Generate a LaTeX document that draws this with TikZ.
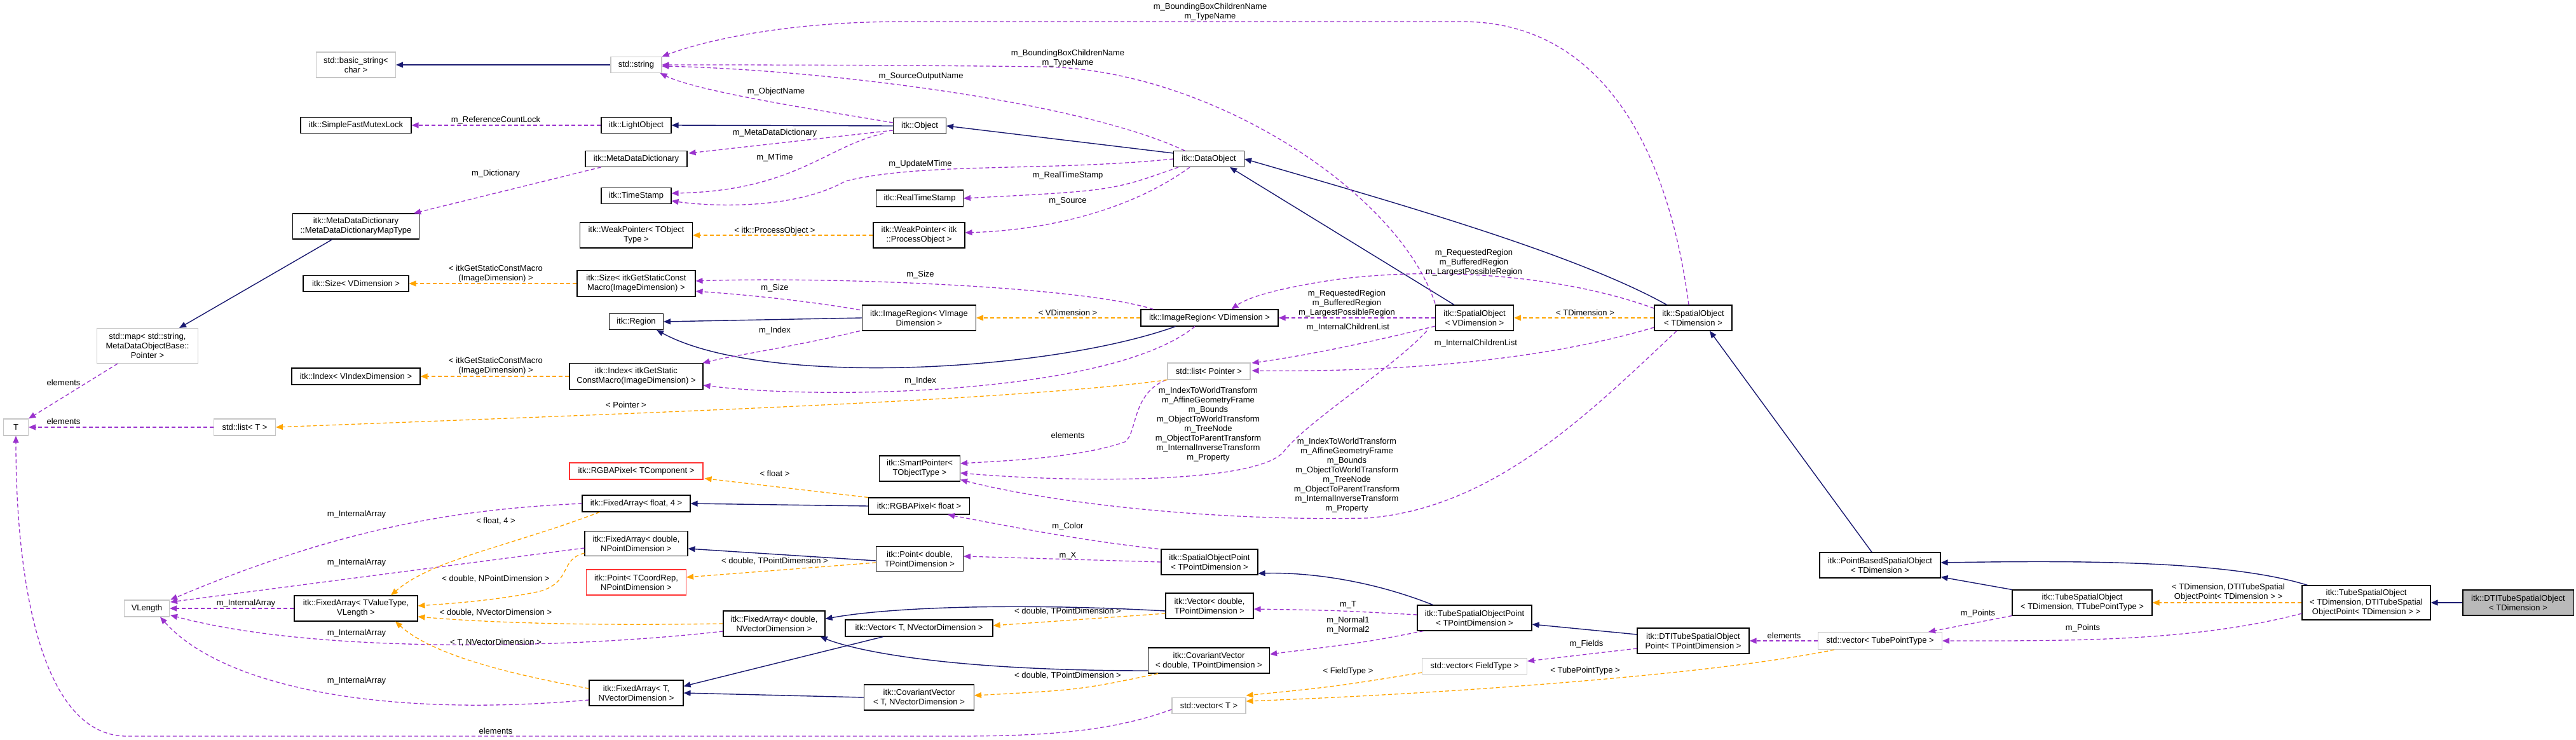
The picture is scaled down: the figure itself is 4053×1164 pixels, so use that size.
\documentclass[tikz,border=0pt]{standalone}
\usepackage{fontspec}
\setmainfont{Liberation Sans}
\usetikzlibrary{arrows.meta,calc}
\definecolor{navy}{HTML}{191970}
\definecolor{purp}{HTML}{9A32CD}
\definecolor{oran}{HTML}{FFA500}
\begin{document}
\begin{tikzpicture}[x=1pt,y=-1pt,
  every node/.style={font=\fontsize{13}{15}\selectfont},
  bx/.style={draw=black,line width=1.1,fill=white,inner sep=1,align=center},
  gb/.style={bx,draw=gray!45},
  rb/.style={bx,draw=red!80},
  lb/.style={align=center,inner sep=0,fill=none},
  inh/.style={draw=navy,line width=1.4,-{Triangle[length=11,width=9]}},
  use/.style={draw=purp,line width=1.3,dash pattern=on 6pt off 4pt,-{Triangle[length=11,width=9]}},
  tpl/.style={draw=oran,line width=1.3,dash pattern=on 6pt off 4pt,-{Triangle[length=11,width=9]}}]
\useasboundingbox[fill=white] (0,0) rectangle (4053,1164);
\newcommand{\bn}[6]{\node[#1,minimum width=#4,minimum height=#5] (#2) at #3 {#6};}
\bn{gb}{bs}{(560,102)}{125}{40}{std::basic\_string<\\char >}
\bn{gb}{str}{(1001,102)}{80}{25}{std::string}
\bn{bx}{sfm}{(560,197)}{174}{25}{itk::SimpleFastMutexLock}
\bn{bx}{lo}{(1001,197)}{110}{25}{itk::LightObject}
\bn{bx}{obj}{(1447,198)}{83}{25}{itk::Object}
\bn{bx}{mdd}{(1001,250)}{160}{25}{itk::MetaDataDictionary}
\bn{bx}{dobj}{(1902,250)}{111}{25}{itk::DataObject}
\bn{bx}{ts}{(1001,308)}{110}{25}{itk::TimeStamp}
\bn{bx}{rts}{(1447,312)}{137}{26}{itk::RealTimeStamp}
\bn{bx}{wpt}{(1001,370)}{177}{40}{itk::WeakPointer< TObject\\Type >}
\bn{bx}{wpp}{(1446,370)}{144}{40}{itk::WeakPointer< itk\\::ProcessObject >}
\bn{bx}{mapt}{(560,356)}{199}{40}{itk::MetaDataDictionary\\::MetaDataDictionaryMapType}
\bn{bx}{szv}{(560,446)}{166}{25}{itk::Size< VDimension >}
\bn{bx}{szg}{(1001,446)}{186}{41}{itk::Size< itkGetStaticConst\\Macro(ImageDimension) >}
\bn{bx}{reg}{(1001,506)}{85}{25}{itk::Region}
\bn{bx}{irvi}{(1446,500)}{179}{40}{itk::ImageRegion< VImage\\Dimension >}
\bn{bx}{irv}{(1903,500)}{216}{26}{itk::ImageRegion< VDimension >}
\bn{bx}{sov}{(2320,500)}{123}{40}{itk::SpatialObject\\< VDimension >}
\bn{bx}{sot}{(2664,500)}{122}{40}{itk::SpatialObject\\< TDimension >}
\bn{gb}{smap}{(232,544)}{159}{55}{std::map< std::string,\\ MetaDataObjectBase::\\Pointer >}
\bn{bx}{idxv}{(560,592)}{202}{26}{itk::Index< VIndexDimension >}
\bn{bx}{idxg}{(1001,592)}{210}{41}{itk::Index< itkGetStatic\\ConstMacro(ImageDimension) >}
\bn{gb}{lp}{(1902,584)}{130}{26}{std::list< Pointer >}
\bn{gb}{T}{(25,672)}{39}{26}{T}
\bn{gb}{lt}{(385,672)}{97}{26}{std::list< T >}
\bn{bx}{sp}{(1447,737)}{127}{40}{itk::SmartPointer<\\TObjectType >}
\bn{rb}{rgbt}{(1001,741)}{210}{26}{itk::RGBAPixel< TComponent >}
\bn{bx}{rgbf}{(1446,796)}{159}{26}{itk::RGBAPixel< float >}
\bn{bx}{fa4}{(1001,792)}{170}{26}{itk::FixedArray< float, 4 >}
\bn{bx}{fadp}{(1001,855)}{162}{39}{itk::FixedArray< double,\\NPointDimension >}
\bn{bx}{pdp}{(1447,879)}{137}{39}{itk::Point< double,\\TPointDimension >}
\bn{bx}{sop}{(1903,884)}{152}{40}{itk::SpatialObjectPoint\\< TPointDimension >}
\bn{rb}{ptc}{(1001,916)}{157}{40}{itk::Point< TCoordRep,\\NPointDimension >}
\bn{gb}{vl}{(231,957)}{71}{26}{VLength}
\bn{bx}{fatv}{(560,957)}{194}{40}{itk::FixedArray< TValueType,\\VLength >}
\bn{bx}{vdp}{(1903,953)}{138}{40}{itk::Vector< double,\\TPointDimension >}
\bn{bx}{fadv}{(1218,981)}{160}{40}{itk::FixedArray< double,\\NVectorDimension >}
\bn{bx}{vtv}{(1446,988)}{232}{26}{itk::Vector< T, NVectorDimension >}
\bn{bx}{cvd}{(1902,1039)}{191}{40}{itk::CovariantVector\\< double, TPointDimension >}
\bn{bx}{fatnv}{(1001,1090)}{148}{40}{itk::FixedArray< T,\\NVectorDimension >}
\bn{bx}{cvt}{(1446,1097)}{173}{40}{itk::CovariantVector\\< T, NVectorDimension >}
\bn{gb}{vt}{(1902,1110)}{116}{25}{std::vector< T >}
\bn{bx}{tsop}{(2320,972)}{180}{40}{itk::TubeSpatialObjectPoint\\< TPointDimension >}
\bn{bx}{dtsop}{(2664,1008)}{176}{40}{itk::DTITubeSpatialObject\\Point< TPointDimension >}
\bn{gb}{vft}{(2320,1048)}{165}{25}{std::vector< FieldType >}
\bn{bx}{pbso}{(2958,889)}{190}{40}{itk::PointBasedSpatialObject\\< TDimension >}
\bn{bx}{tso}{(3276,948)}{220}{40}{itk::TubeSpatialObject\\< TDimension, TTubePointType >}
\bn{bx}{tsod}{(3723,948)}{202}{54}{itk::TubeSpatialObject\\< TDimension, DTITubeSpatial\\ObjectPoint< TDimension > >}
\bn{bx,fill=gray!55}{dtso}{(3962,948)}{174}{40}{itk::DTITubeSpatialObject\\< TDimension >}
\bn{gb}{vtp}{(2958,1008)}{195}{27}{std::vector< TubePointType >}
% inheritance
\draw[inh] (str.west) -- (bs.east);
\draw[inh] (obj.west) -- (lo.east);
\draw[inh] ($(dobj.north west)+(0,4)$) -- (obj.east);
\draw[inh] ($(sot.north west)+(20,0)$) .. controls (2480,400) and (2200,320) .. (dobj.east);
\draw[inh] ($(sov.north west)+(30,0)$) -- ($(dobj.south east)+(-23,0)$);
\draw[inh] ($(mapt.south west)+(63,0)$) -- ($(smap.north)+(50,0)$);
\draw[inh] (irvi.west) -- (reg.east);
\draw[inh] ($(irv.south west)+(55,0)$) .. controls (1650,585) and (1200,610) .. ($(reg.south east)+(-11,0)$);
\draw[inh] (rgbf.west) -- (fa4.east);
\draw[inh] ($(pdp.west)+(0,3)$) -- ($(fadp.east)+(0,8)$);
\draw[inh] ($(vdp.west)+(0,8)$) .. controls (1600,948) and (1400,955) .. ($(fadv.north east)+(0,13)$);
\draw[inh] ($(cvd.west)+(0,16)$) .. controls (1500,1055) and (1350,1025) .. ($(fadv.south east)+(-8,0)$);
\draw[inh] ($(vtv.south west)+(60,0)$) -- ($(fatnv.north east)+(0,10)$);
\draw[inh] (cvt.west) -- (fatnv.east);
\draw[inh] ($(tsop.north west)+(25,0)$) .. controls (2150,910) and (2050,900) .. ($(sop.east)+(0,18)$);
\draw[inh] ($(dtsop.west)+(0,-10)$) -- ($(tsop.east)+(0,10)$);
\draw[inh] ($(pbso.north)+(-13,0)$) -- ($(sot.south)+(26,0)$);
\draw[inh] ($(tso.north west)+(0,0)$) -- ($(pbso.south east)+(0,-2)$);
\draw[inh] ($(tsod.north west)+(9,0)$) .. controls (3500,880) and (3250,882) .. ($(pbso.east)+(0,-4)$);
\draw[inh] (dtso.west) -- (tsod.east);
% usage
\draw[use] (lo.west) -- (sfm.east);
\draw[use] ($(mdd.south west)+(25,0)$) -- ($(mapt.north east)+(-9,0)$);
\draw[use] ($(obj.west)+(0,-5)$) .. controls (1300,175) and (1100,145) .. ($(str.south east)+(-3,0)$);
\draw[use] ($(obj.west)+(0,7)$) -- ($(mdd.east)+(2,-9)$);
\draw[use] ($(obj.west)+(-15,12)$) .. controls (1300,230) and (1250,300) .. ($(ts.east)+(0,-4)$);
\draw[use] (dobj.west) .. controls (1650,270) and (1450,255) .. (1330,285) .. controls (1250,330) and (1120,325) .. ($(ts.east)+(0,8)$);
\draw[use] ($(dobj.south west)+(8,0)$) .. controls (1750,300) .. (rts.east);
\draw[use] ($(dobj.south)+(-30,0)$) .. controls (1780,330) and (1650,362) .. ($(wpp.east)+(0,-4)$);
\draw[use] ($(dobj.north west)+(18,0)$) .. controls (1700,160) and (1300,110) .. ($(str.east)+(0,2)$);
\draw[use] ($(sov.north west)+(0,-2)$) .. controls (2200,300) and (1900,108) .. (1640,105) .. controls (1400,102) and (1150,102) .. ($(str.east)+(0,0)$);
\draw[use] ($(sot.north)+(-7,0)$) .. controls (2620,200) and (2500,34) .. (2300,34) -- (1420,34) .. controls (1250,34) and (1120,60) .. ($(str.north east)+(0,0)$);
\draw[use] ($(irvi.north west)+(-3,8)$) .. controls (1250,470) and (1150,462) .. ($(szg.east)+(0,12)$);
\draw[use] ($(irv.north west)+(20,0)$) .. controls (1700,450) and (1300,435) .. ($(szg.east)+(0,-4)$);
\draw[use] ($(irvi.south west)+(-3,0)$) .. controls (1250,545) and (1150,560) .. ($(idxg.north east)+(-1,0)$);
\draw[use] ($(irv.south)+(-23,0)$) .. controls (1750,620) and (1300,630) .. ($(idxg.east)+(0,14)$);
\draw[use] (sov.west) -- (irv.east);
\draw[use] ($(sot.west)+(0,-15)$) .. controls (2450,430) and (2250,420) .. (2100,440) .. controls (2000,455) and (1960,470) .. ($(irv.north east)+(-74,0)$);
\draw[use] ($(sov.west)+(0,13)$) .. controls (2150,540) and (2050,560) .. ($(lp.east)+(2,-13)$);
\draw[use] ($(sot.west)+(0,15)$) .. controls (2400,575) and (2150,585) .. ($(lp.east)+(2,-1)$);
\draw[use] ($(lp.south west)+(-2,0)$) .. controls (1780,620) and (1790,680) .. (1770,695) .. controls (1700,720) and (1580,725) .. ($(sp.east)+(0,-8)$);
\draw[use] ($(sov.south west)+(-13,0)$) .. controls (2190,580) and (2060,660) .. (2020,710) .. controls (1980,760) and (1700,760) .. ($(sp.east)+(0,7)$);
\draw[use] ($(sot.south)+(-26,0)$) .. controls (2500,650) and (2350,800) .. (2150,815) .. controls (1900,820) and (1650,790) .. ($(sp.south east)+(0,-3)$);
\draw[use] ($(sop.north west)+(-4,0)$) .. controls (1700,850) and (1600,830) .. ($(rgbf.south east)+(-35,0)$);
\draw[use] (sop.west) -- ($(pdp.east)+(0,-4)$);
\draw[use] ($(tsop.west)+(0,-5)$) .. controls (2100,960) .. ($(vdp.east)+(0,5)$);
\draw[use] ($(tsop.south west)+(10,0)$) .. controls (2150,1010) .. ($(cvd.east)+(0,-10)$);
\draw[use] ($(dtsop.west)+(0,12)$) -- ($(vft.east)+(0,-8)$);
\draw[use] (vtp.west) -- (dtsop.east);
\draw[use] (tso.south west) -- ($(vtp.north east)+(-22,0)$);
\draw[use] ($(tsod.west)+(0,17)$) .. controls (3450,1010) and (3250,1008) .. (vtp.east);
\draw[use] ($(smap.south)+(-47,0)$) -- (T.north east);
\draw[use] (lt.west) -- (T.east);
\draw[use] ($(vt.west)+(0,6)$) .. controls (1750,1150) and (1650,1158) .. (1500,1158) -- (200,1158) .. controls (60,1158) and (25,900) .. (T.south);
\draw[use] (fa4.west) .. controls (750,800) and (560,820) .. ($(vl.north east)+(1,0)$);
\draw[use] ($(fadp.west)+(0,7)$) -- ($(vl.east)+(1,-10)$);
\draw[use] (fatv.west) -- (vl.east);
\draw[use] ($(fadv.west)+(0,12)$) .. controls (900,1020) and (500,1030) .. ($(vl.south east)+(1,-3)$);
\draw[use] ($(fatnv.west)+(0,11)$) .. controls (600,1130) and (350,1080) .. ($(vl.south east)+(-15,0)$);
% templates
\draw[tpl] (szg.west) -- (szv.east);
\draw[tpl] (idxg.west) -- (idxv.east);
\draw[tpl] (wpp.west) -- (wpt.east);
\draw[tpl] (irv.west) -- (irvi.east);
\draw[tpl] (sot.west) -- (sov.east);
\draw[tpl] ($(lp.south west)+(0,0)$) .. controls (1600,630) and (1000,650) .. (lt.east);
\draw[tpl] ($(rgbf.north west)+(0,0)$) -- ($(rgbt.south east)+(2,-2)$);
\draw[tpl] ($(fa4.south west)+(28,0)$) .. controls (800,860) and (680,880) .. ($(fatv.north)+(55,0)$);
\draw[tpl] ($(fadp.west)+(0,15)$) .. controls (880,880) and (900,915) .. (850,930) .. controls (780,945) and (700,950) .. ($(fatv.east)+(0,-4)$);
\draw[tpl] (fadv.west) .. controls (900,985) and (750,978) .. ($(fatv.east)+(0,13)$);
\draw[tpl] ($(fatnv.west)+(0,-7)$) .. controls (800,1060) and (680,1030) .. ($(fatv.south)+(62,0)$);
\draw[tpl] ($(pdp.west)+(0,6)$) -- ($(ptc.east)+(0,-8)$);
\draw[tpl] ($(vdp.west)+(0,12)$) -- ($(vtv.east)+(0,-4)$);
\draw[tpl] ($(cvd.south west)+(16,0)$) .. controls (1700,1085) .. ($(cvt.east)+(0,-3)$);
\draw[tpl] ($(vft.west)+(0,10)$) .. controls (2100,1080) .. ($(vt.east)+(0,-16)$);
\draw[tpl] ($(vtp.south west)+(26,0)$) .. controls (2700,1060) and (2300,1090) .. ($(vt.east)+(0,-7)$);
\draw[tpl] (tsod.west) -- (tso.east);
% labels
\node[lb] (l1) at (780,189) {m\_ReferenceCountLock};
\node[lb] (l2) at (780,273) {m\_Dictionary};
\node[lb] (l3) at (780,431) {< itkGetStaticConstMacro\\(ImageDimension) >};
\node[lb] (l4) at (780,576) {< itkGetStaticConstMacro\\(ImageDimension) >};
\node[lb] (l5) at (100,602) {elements};
\node[lb] (l6) at (100,663) {elements};
\node[lb] (l7) at (985,637) {< Pointer >};
\node[lb] (l8) at (561,809) {m\_InternalArray};
\node[lb] (l9) at (780,820) {< float, 4 >};
\node[lb] (l10) at (561,885) {m\_InternalArray};
\node[lb] (l11) at (780,911) {< double, NPointDimension >};
\node[lb] (l12) at (387,949) {m\_InternalArray};
\node[lb] (l13) at (780,964) {< double, NVectorDimension >};
\node[lb] (l14) at (561,996) {m\_InternalArray};
\node[lb] (l15) at (780,1011) {< T, NVectorDimension >};
\node[lb] (l16) at (561,1071) {m\_InternalArray};
\node[lb] (l17) at (780,1150) {elements};
\node[lb] (l18) at (1904,19) {m\_BoundingBoxChildrenName\\m\_TypeName};
\node[lb] (l19) at (1680,92) {m\_BoundingBoxChildrenName\\m\_TypeName};
\node[lb] (l20) at (1449,120) {m\_SourceOutputName};
\node[lb] (l21) at (1221,144) {m\_ObjectName};
\node[lb] (l22) at (1219,209) {m\_MetaDataDictionary};
\node[lb] (l23) at (1219,248) {m\_MTime};
\node[lb] (l24) at (1448,258) {m\_UpdateMTime};
\node[lb] (l25) at (1680,276) {m\_RealTimeStamp};
\node[lb] (l26) at (1680,316) {m\_Source};
\node[lb] (l27) at (1219,363) {< itk::ProcessObject >};
\node[lb] (l28) at (1448,432) {m\_Size};
\node[lb] (l29) at (1219,453) {m\_Size};
\node[lb] (l30) at (1680,492) {< VDimension >};
\node[lb] (l31) at (1219,520) {m\_Index};
\node[lb] (l32) at (1448,599) {m\_Index};
\node[lb] (l33) at (1680,685) {elements};
\node[lb] (l34) at (1901,668) {m\_IndexToWorldTransform\\m\_AffineGeometryFrame\\m\_Bounds\\m\_ObjectToWorldTransform\\m\_TreeNode\\m\_ObjectToParentTransform\\m\_InternalInverseTransform\\m\_Property};
\node[lb] (l35) at (1219,745) {< float >};
\node[lb] (l36) at (1680,828) {m\_Color};
\node[lb] (l37) at (1219,883) {< double, TPointDimension >};
\node[lb] (l38) at (1680,874) {m\_X};
\node[lb] (l39) at (1680,962) {< double, TPointDimension >};
\node[lb] (l40) at (1680,1063) {< double, TPointDimension >};
\node[lb] (l41) at (2319,413) {m\_RequestedRegion\\m\_BufferedRegion\\m\_LargestPossibleRegion};
\node[lb] (l42) at (2119,477) {m\_RequestedRegion\\m\_BufferedRegion\\m\_LargestPossibleRegion};
\node[lb] (l43) at (2121,515) {m\_InternalChildrenList};
\node[lb] (l44) at (2322,540) {m\_InternalChildrenList};
\node[lb] (l45) at (2494,492) {< TDimension >};
\node[lb] (l46) at (2119,748) {m\_IndexToWorldTransform\\m\_AffineGeometryFrame\\m\_Bounds\\m\_ObjectToWorldTransform\\m\_TreeNode\\m\_ObjectToParentTransform\\m\_InternalInverseTransform\\m\_Property};
\node[lb] (l47) at (2121,951) {m\_T};
\node[lb] (l48) at (2121,984) {m\_Normal1\\m\_Normal2};
\node[lb] (l49) at (2496,1013) {m\_Fields};
\node[lb] (l50) at (2807,1000) {elements};
\node[lb] (l51) at (2121,1056) {< FieldType >};
\node[lb] (l52) at (2494,1055) {< TubePointType >};
\node[lb] (l53) at (3506,932) {< TDimension, DTITubeSpatial\\ObjectPoint< TDimension > >};
\node[lb] (l54) at (3112,965) {m\_Points};
\node[lb] (l55) at (3277,988) {m\_Points};
\end{tikzpicture}
\end{document}
